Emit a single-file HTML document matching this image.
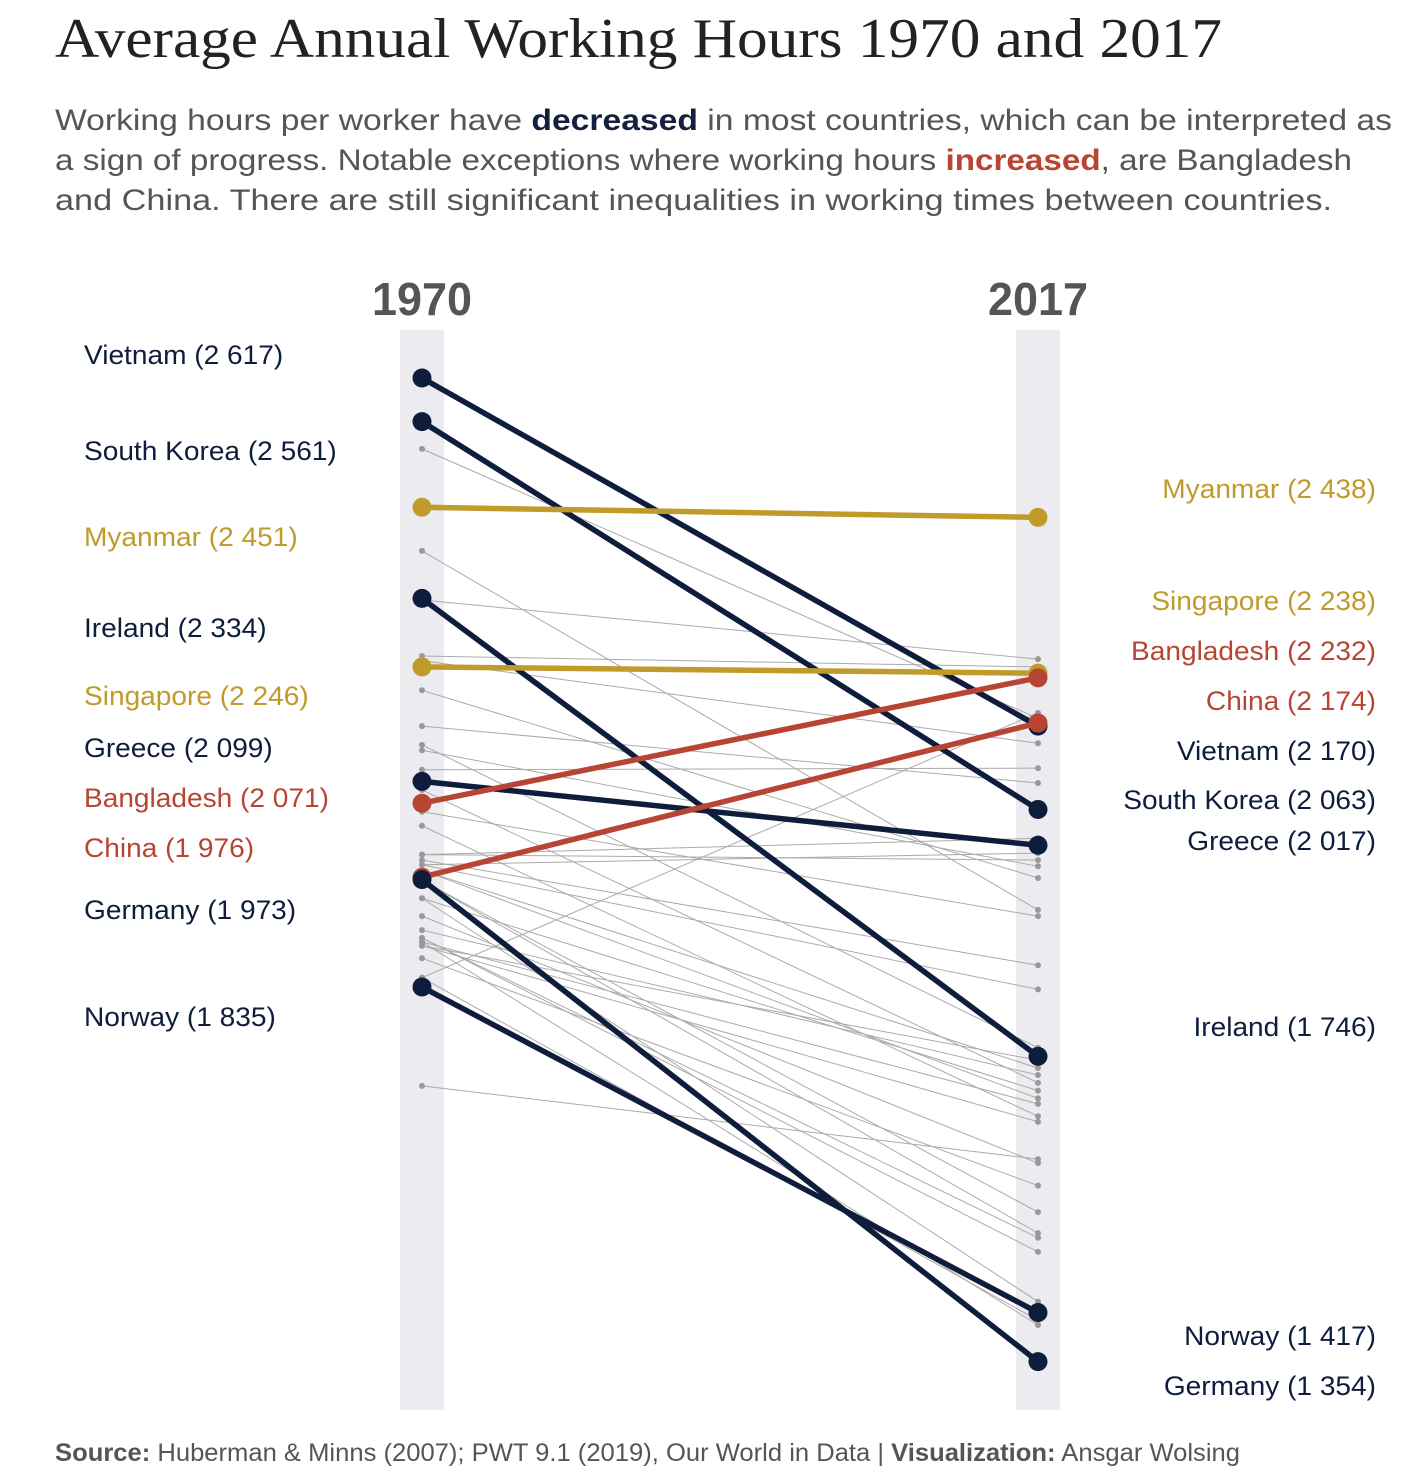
<!DOCTYPE html>
<html><head><meta charset="utf-8">
<style>
html,body{margin:0;padding:0;background:#fff;}
svg{display:block;font-family:"Liberation Sans",sans-serif;}
</style></head>
<body>
<svg id="chart" width="1418" height="1484" viewBox="0 0 1418 1484">
<text x="55" y="57" font-family="Liberation Serif, serif" font-size="56" fill="#222" textLength="1167" lengthAdjust="spacingAndGlyphs">Average Annual Working Hours 1970 and 2017</text>
<g font-size="30" fill="#555">
<text x="55" y="130" textLength="1337" lengthAdjust="spacingAndGlyphs">Working hours per worker have <tspan font-weight="bold" fill="#14213d">decreased</tspan> in most countries, which can be interpreted as</text>
<text x="55" y="170" textLength="1297" lengthAdjust="spacingAndGlyphs">a sign of progress. Notable exceptions where working hours <tspan font-weight="bold" fill="#b84434">increased</tspan>, are Bangladesh</text>
<text x="55" y="210" textLength="1277" lengthAdjust="spacingAndGlyphs">and China. There are still significant inequalities in working times between countries.</text>
</g>
<rect x="400" y="330" width="44" height="1080" fill="#ebebf0"/>
<rect x="1016" y="330" width="44" height="1080" fill="#ebebf0"/>
<text x="422" y="315" text-anchor="middle" font-size="46" font-weight="bold" fill="#555" textLength="100" lengthAdjust="spacingAndGlyphs">1970</text>
<text x="1038" y="315" text-anchor="middle" font-size="46" font-weight="bold" fill="#555" textLength="100" lengthAdjust="spacingAndGlyphs">2017</text>
<g id="gray"></g>
<g id="hl"></g>
<g id="labels" font-size="27"></g>
<text x="55" y="1461" font-size="25" fill="#555" textLength="1185" lengthAdjust="spacingAndGlyphs"><tspan font-weight="bold">Source:</tspan> Huberman &amp; Minns (2007); PWT 9.1 (2019), Our World in Data | <tspan font-weight="bold">Visualization:</tspan> Ansgar Wolsing</text>
</svg>
<script>
const grayStart = [2526,2395,2332,2260,2254,2216,2170,2146,2139,2114,2088,2060,2042,2005,1998,1992,1985,1972,1949,1926,1908,1898,1893,1888,1872,1847,1708,1985,1972,1949,1898,1893,1888,2005,1992,1847];
const grayEnd   = [2180,1934,2256,2246,2148,1975,2097,1757,1990,2116,1712,1926,1669,2026,1863,1832,1731,1546,1702,1609,1722,1495,1685,1662,1580,1407,1614,1692,1519,1431,1513,1401,1741,1998,2007,2187];
const highlightCountries = ["Vietnam","South Korea","Myanmar","Ireland","Singapore","Greece","Bangladesh","China","Germany","Norway"];
const hours1970 = [2617,2561,2451,2334,2246,2099,2071,1976,1973,1835];
const hours2017 = [2170,2063,2438,1746,2238,2017,2232,2174,1354,1417];
const groups = ["dec","dec","flat","dec","flat","dec","inc","inc","dec","dec"];
const leftLabelY  = [355,451,537,628,696,748,798,848,910,1017];
const rightLabelY = [751,800,489,1027,601,841,651,701,1386,1336];

const colors = {dec:"#0f1d3d", flat:"#c09a2a", inc:"#b84434"};
const x1970 = 422, x2017 = 1038;
const yScale = v => 378 + (2617 - v) * 0.7788;
const NS = "http://www.w3.org/2000/svg";
const fmt = v => String(v).replace(/^(\d)(\d{3})$/, "$1 $2");
function mk(tag, attrs, parent){const e=document.createElementNS(NS,tag);for(const k in attrs)e.setAttribute(k,attrs[k]);parent.appendChild(e);return e;}

const gray = document.getElementById("gray");
grayStart.forEach((s,i)=>{
  const l = mk("line",{x1:x1970,y1:yScale(s),x2:x2017,y2:yScale(grayEnd[i]),stroke:"#aaa","stroke-width":1},gray);
  
  
  const a = mk("circle",{cx:x1970,cy:yScale(s),r:3,fill:"#999"},gray);
  
  
  const b = mk("circle",{cx:x2017,cy:yScale(grayEnd[i]),r:3,fill:"#999"},gray);
  
  
});

const hl = document.getElementById("hl");
const labels = document.getElementById("labels");
highlightCountries.forEach((c,i)=>{
  const col = colors[groups[i]];
  const l = mk("line",{x1:x1970,y1:yScale(hours1970[i]),x2:x2017,y2:yScale(hours2017[i]),stroke:col,"stroke-width":5.5},hl);
  
  
  const a = mk("circle",{cx:x1970,cy:yScale(hours1970[i]),r:9.5,fill:col},hl);
  
  
  const b = mk("circle",{cx:x2017,cy:yScale(hours2017[i]),r:9.5,fill:col},hl);
  
  
  const tl = mk("text",{transform:`translate(84,${leftLabelY[i]+9}) scale(1.04,1)`,fill:col},labels);
  tl.textContent = `${c} (${fmt(hours1970[i])})`;
  
  
  const tr = mk("text",{transform:`translate(1376,${rightLabelY[i]+9}) scale(1.04,1)`,fill:col,"text-anchor":"end"},labels);
  tr.textContent = `${c} (${fmt(hours2017[i])})`;
  
  
});
</script>
</body></html>
